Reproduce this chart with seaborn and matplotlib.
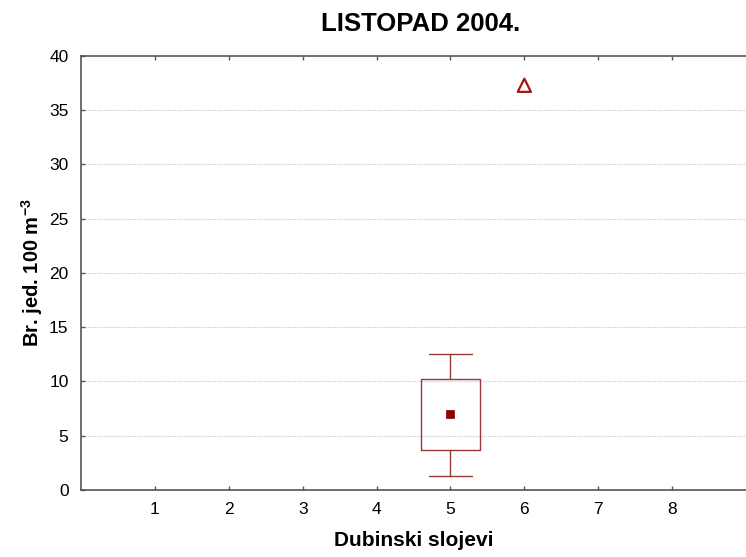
import matplotlib
matplotlib.use("Agg")
import matplotlib.pyplot as plt
import seaborn as sns
import pandas as pd

# Data
layers = [1, 2, 3, 4, 5, 6, 7, 8]
box_position = [5]
box_median = [7.0]
box_q1 = [3.7]
box_q3 = [10.2]
box_whislo = [1.3]
box_whishi = [12.5]
extreme_x = [6]
extreme_y = [37.3]
y_ticks = [0, 5, 10, 15, 20, 25, 30, 35, 40]

sns.set_theme(style="white")
plt.rcParams['font.family'] = ['Liberation Sans', 'DejaVu Sans']
plt.rcParams['text.color'] = 'black'
plt.rcParams['axes.labelcolor'] = 'black'
plt.rcParams['xtick.color'] = 'black'
plt.rcParams['ytick.color'] = 'black'
plt.rcParams['mathtext.fontset'] = 'custom'
plt.rcParams['mathtext.bf'] = 'Liberation Sans:bold'
plt.rcParams['mathtext.rm'] = 'Liberation Sans'

fig = plt.figure(figsize=(7.46, 5.57), dpi=100)
ax = fig.add_axes([0.1086, 0.1203, 0.8914, 0.7792])

box_color = "#9a3838"
stats = []
for p, med, q1, q3, lo, hi in zip(box_position, box_median, box_q1, box_q3, box_whislo, box_whishi):
    stats.append(dict(med=med, q1=q1, q3=q3, whislo=lo, whishi=hi, fliers=[], label=str(p)))
ax.bxp(stats, positions=box_position, widths=0.81, capwidths=0.57, showfliers=False,
       showcaps=True, patch_artist=False, manage_ticks=False,
       boxprops=dict(color=box_color, linewidth=1.0),
       whiskerprops=dict(color=box_color, linewidth=1.0),
       capprops=dict(color=box_color, linewidth=1.0),
       medianprops=dict(linewidth=0))

med_df = pd.DataFrame({"x": box_position, "y": box_median})
sns.scatterplot(data=med_df, x="x", y="y", marker="s", s=40, color="#8b0000",
                edgecolor="#8b0000", ax=ax, zorder=5)
ext_df = pd.DataFrame({"x": extreme_x, "y": extreme_y})
sns.scatterplot(data=ext_df, x="x", y="y", marker="^", s=90, facecolor="none",
                edgecolor="#a01818", linewidth=1.6, ax=ax, zorder=5)

ax.set_xlim(0, 9)
ax.set_ylim(0, 40)
ax.set_xticks(layers)
ax.set_xticklabels([str(v) for v in layers])
ax.set_yticks(y_ticks)
ax.set_yticklabels([str(v) for v in y_ticks])
for y in y_ticks[1:-1]:
    ax.axhline(y, color="#c8c8c8", linestyle=(0, (1, 1)), linewidth=0.8, zorder=0)

for s in ["left", "bottom", "top"]:
    ax.spines[s].set_visible(True)
    ax.spines[s].set_color("#555555")
    ax.spines[s].set_linewidth(1.2)
ax.spines["right"].set_visible(False)
ax.tick_params(axis="both", direction="in", length=3, width=1, color="#555555",
               top=True, bottom=True, left=True, labelsize=12.5, labelcolor="black")
ax.tick_params(axis="y", pad=9)
ax.tick_params(axis="x", pad=9)

ax.set_xlabel("Dubinski slojevi", fontsize=15, fontweight="bold", labelpad=10)
ax.set_ylabel(r"Br. jed. 100 m$^{\mathbf{-3}}$", fontsize=14.5, fontweight="bold", labelpad=3)
ax.set_title("LISTOPAD 2004.", fontsize=18.5, fontweight="bold", pad=18, x=0.51)

fig.savefig("out.png", dpi=100)
